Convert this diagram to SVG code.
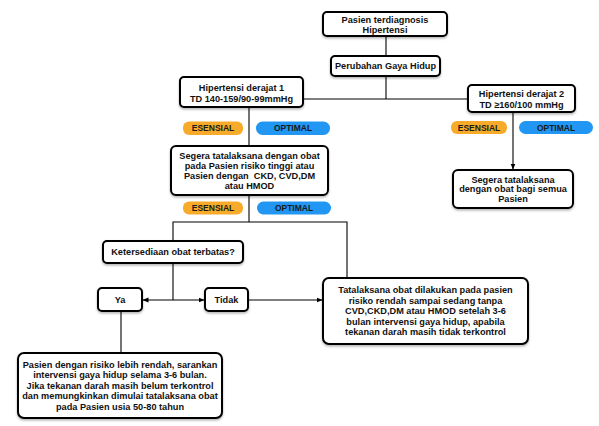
<svg xmlns="http://www.w3.org/2000/svg" width="599" height="426" viewBox="0 0 599 426">
<defs>
<marker id="ah" markerWidth="6" markerHeight="6" refX="5.5" refY="3" orient="auto" markerUnits="userSpaceOnUse">
<path d="M0,0.5 L6,3 L0,5.5 Z" fill="#000"/>
</marker>
<marker id="as" markerWidth="6" markerHeight="6" refX="0.5" refY="3" orient="auto" markerUnits="userSpaceOnUse">
<path d="M6,0.5 L0,3 L6,5.5 Z" fill="#000"/>
</marker>
<filter id="sh" x="-10%" y="-10%" width="120%" height="130%">
<feDropShadow dx="0" dy="1.5" stdDeviation="1.2" flood-color="#000" flood-opacity="0.3"/>
</filter>
</defs>
<style>
.box{fill:#fff;stroke:#000;stroke-width:2;filter:url(#sh)}
.t{font-family:"Liberation Sans",Arial,sans-serif;font-weight:bold;font-size:9.2px;fill:#111;text-anchor:middle}
.bt{font-family:"Liberation Sans",Arial,sans-serif;font-weight:bold;font-size:8.5px;fill:#1a1a1a;text-anchor:middle}
.es{fill:#F8AB2A}
.op{fill:#2196F3}
.c{fill:none;stroke:#000;stroke-width:1.1}
</style>
<rect width="599" height="426" fill="#fff"/>
<g id="connectors">
<line class="c" x1="386" y1="36" x2="386" y2="55"/>
<line class="c" x1="386" y1="76" x2="386" y2="99"/>
<line class="c" x1="303" y1="99" x2="468" y2="99"/>
<line class="c" x1="249" y1="107" x2="249" y2="146"/>
<line class="c" x1="513" y1="112" x2="513" y2="169" marker-end="url(#ah)"/>
<line class="c" x1="249" y1="195" x2="249" y2="222"/>
<polyline class="c" points="173,241 173,222 347,222 347,278"/>
<line class="c" x1="173" y1="263" x2="173" y2="300"/>
<line class="c" x1="143" y1="300" x2="204" y2="300" marker-start="url(#as)" marker-end="url(#ah)"/>
<line class="c" x1="248" y1="300" x2="322" y2="300" marker-end="url(#ah)"/>
<line class="c" x1="121" y1="311" x2="121" y2="353"/>
</g>
<g id="pasien">
<rect class="box" x="323" y="12" width="124" height="24" rx="4"/>
<text class="t" x="385" y="23">Pasien terdiagnosis</text>
<text class="t" x="385" y="32.5">Hipertensi</text>
</g>
<g id="gaya-hidup">
<rect class="box" x="331" y="56" width="109" height="20" rx="4"/>
<text class="t" x="385.5" y="69">Perubahan Gaya Hidup</text>
</g>
<g id="derajat1">
<rect class="box" x="180" y="77" width="123" height="30" rx="4"/>
<text class="t" x="241.5" y="91">Hipertensi derajat 1</text>
<text class="t" x="241.5" y="102">TD 140-159/90-99mmHg</text>
</g>
<g id="derajat2">
<rect class="box" x="468" y="85" width="107" height="27" rx="4"/>
<text class="t" x="521.5" y="97">Hipertensi derajat 2</text>
<text class="t" x="521.5" y="107.5">TD ≥160/100 mmHg</text>
</g>
<g id="badges1">
<rect class="es" x="183" y="121.5" width="60" height="13.5" rx="6"/>
<text class="bt" x="213" y="131.3">ESENSIAL</text>
<rect class="op" x="256" y="121.5" width="74" height="13.5" rx="6.5"/>
<text class="bt" x="293" y="131.3">OPTIMAL</text>
</g>
<g id="badges2">
<rect class="es" x="451" y="121" width="56" height="13" rx="6"/>
<text class="bt" x="479" y="130.8">ESENSIAL</text>
<rect class="op" x="519" y="121" width="74" height="13" rx="6.5"/>
<text class="bt" x="556" y="130.8">OPTIMAL</text>
</g>
<g id="segera1">
<rect class="box" x="171" y="146" width="157" height="49" rx="5"/>
<text class="t" x="249.5" y="158.5">Segera tatalaksana dengan obat</text>
<text class="t" x="249.5" y="168.5">pada Pasien risiko tinggi atau</text>
<text class="t" x="249.5" y="178.5" xml:space="preserve">Pasien dengan  CKD, CVD,DM</text>
<text class="t" x="249.5" y="188.5">atau HMOD</text>
</g>
<g id="badges3">
<rect class="es" x="183" y="201.5" width="60" height="13" rx="6"/>
<text class="bt" x="213" y="211.2">ESENSIAL</text>
<rect class="op" x="257" y="201.5" width="74" height="13" rx="6.5"/>
<text class="bt" x="294" y="211.2">OPTIMAL</text>
</g>
<g id="segera2">
<rect class="box" x="453" y="170" width="120" height="38" rx="5"/>
<text class="t" x="513" y="182.5">Segera tatalaksana</text>
<text class="t" x="513" y="192">dengan obat bagi semua</text>
<text class="t" x="513" y="201.5">Pasien</text>
</g>
<g id="ketersediaan">
<rect class="box" x="103" y="241" width="140" height="22" rx="4"/>
<text class="t" x="173" y="255">Ketersediaan obat terbatas?</text>
</g>
<g id="ya">
<rect class="box" x="98" y="288" width="44" height="23" rx="4"/>
<text class="t" x="120" y="303">Ya</text>
</g>
<g id="tidak">
<rect class="box" x="205" y="288" width="43" height="23" rx="4"/>
<text class="t" x="226.5" y="303">Tidak</text>
</g>
<g id="tatalaksana">
<rect class="box" x="323" y="278" width="205" height="66" rx="6"/>
<text class="t" x="425.5" y="293">Tatalaksana obat dilakukan pada pasien</text>
<text class="t" x="425.5" y="303.5">risiko rendah sampai sedang tanpa</text>
<text class="t" x="425.5" y="314">CVD,CKD,DM atau HMOD setelah 3-6</text>
<text class="t" x="425.5" y="324.5">bulan intervensi gaya hidup, apabila</text>
<text class="t" x="425.5" y="335">tekanan darah masih tidak terkontrol</text>
</g>
<g id="risiko-rendah">
<rect class="box" x="18" y="353" width="204" height="65" rx="6"/>
<text class="t" x="120" y="367.5">Pasien dengan risiko lebih rendah, sarankan</text>
<text class="t" x="120" y="378">intervensi gaya hidup selama 3-6 bulan.</text>
<text class="t" x="120" y="388.5">Jika tekanan darah masih belum terkontrol</text>
<text class="t" x="120" y="399">dan memungkinkan dimulai tatalaksana obat</text>
<text class="t" x="120" y="409.5">pada Pasien usia 50-80 tahun</text>
</g>
</svg>
